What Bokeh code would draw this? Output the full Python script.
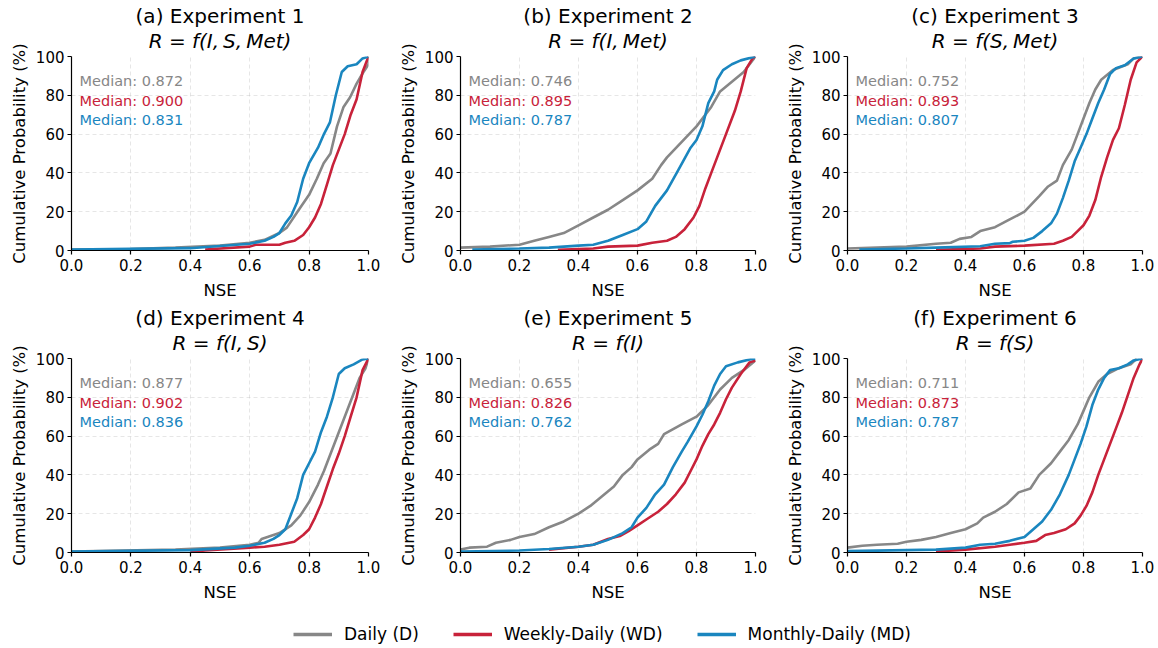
from bokeh.plotting import figure
from bokeh.models import Range1d, Title, PrintfTickFormatter, FixedTicker, Legend, LegendItem
from bokeh.layouts import row, column
from bokeh.core.properties import value
from bokeh.embed import file_html
from bokeh.resources import INLINE

# ---------------- data ----------------
series_names = ["Daily (D)", "Weekly-Daily (WD)", "Monthly-Daily (MD)"]
series_colors = ["#878787", "#C8223A", "#1A86BF"]

titles = ["(a) Experiment 1", "(b) Experiment 2", "(c) Experiment 3",
          "(d) Experiment 4", "(e) Experiment 5", "(f) Experiment 6"]
subtitles = ["R = f(I,\u2009S,\u2009Met)", "R = f(I,\u2009Met)", "R = f(S,\u2009Met)",
             "R = f(I,\u2009S)", "R = f(I)", "R = f(S)"]

medians_daily = [0.872, 0.746, 0.752, 0.877, 0.655, 0.711]
medians_weekly = [0.900, 0.895, 0.893, 0.902, 0.826, 0.873]
medians_monthly = [0.831, 0.787, 0.807, 0.836, 0.762, 0.787]

x_ticks = [0.0, 0.2, 0.4, 0.6, 0.8, 1.0]
y_ticks = [0, 20, 40, 60, 80, 100]

# Experiment 1
exp1_daily_nse = [0.0, 0.2, 0.35, 0.5, 0.6, 0.65, 0.7, 0.725, 0.77, 0.80, 0.826, 0.849, 0.872, 0.894, 0.916, 0.938, 0.96, 0.983, 1.0, 1.0]
exp1_daily_cdf = [0.5, 0.7, 1.5, 2.5, 4.0, 5.5, 9.0, 11.8, 22, 28.7, 37, 45, 50, 64, 74, 79, 86, 92, 96, 100]
exp1_weekly_nse = [0.45, 0.6, 0.62, 0.70, 0.72, 0.75, 0.78, 0.80, 0.82, 0.84, 0.86, 0.88, 0.90, 0.92, 0.94, 0.96, 0.98, 1.0]
exp1_weekly_cdf = [0.5, 2.0, 3.0, 3.0, 4.0, 5.0, 8.0, 12, 17, 24, 34, 44, 52, 60, 70, 78, 92, 100]
exp1_monthly_nse = [0.0, 0.4, 0.6, 0.65, 0.68, 0.70, 0.72, 0.74, 0.76, 0.78, 0.80, 0.83, 0.85, 0.87, 0.89, 0.91, 0.93, 0.96, 0.98, 1.0]
exp1_monthly_cdf = [0.5, 1.2, 3.5, 5.0, 7.0, 9.0, 14, 18, 25, 37, 45, 53, 60, 66, 80, 92, 95, 96, 99, 100]

# Experiment 2
exp2_daily_nse = [0.0, 0.1, 0.2, 0.25, 0.3, 0.35, 0.4, 0.45, 0.5, 0.55, 0.6, 0.65, 0.68, 0.70, 0.75, 0.80, 0.85, 0.88, 0.92, 0.96, 1.0]
exp2_daily_cdf = [1.5, 2.0, 3.0, 5.0, 7.0, 9.0, 13, 17, 21, 26, 31, 37, 44, 48, 56, 64, 74, 82, 87, 92, 100]
exp2_weekly_nse = [0.33, 0.45, 0.5, 0.6, 0.65, 0.70, 0.73, 0.76, 0.79, 0.81, 0.83, 0.85, 0.87, 0.90, 0.93, 0.95, 0.97, 0.99, 1.0]
exp2_weekly_cdf = [0.3, 1.0, 2.0, 2.5, 4.0, 5.0, 7.0, 11, 17, 23, 32, 40, 48, 60, 72, 82, 94, 99, 100]
exp2_monthly_nse = [0.04, 0.2, 0.3, 0.4, 0.45, 0.5, 0.55, 0.6, 0.63, 0.66, 0.70, 0.74, 0.78, 0.80, 0.82, 0.84, 0.86, 0.87, 0.89, 0.92, 0.95, 1.0]
exp2_monthly_cdf = [0.5, 1.0, 1.5, 2.5, 3.0, 5.0, 8.0, 11, 15, 23, 31, 42, 53, 57, 64, 76, 82, 88, 93, 96, 98, 100]

# Experiment 3
exp3_daily_nse = [0.0, 0.1, 0.2, 0.3, 0.35, 0.38, 0.42, 0.45, 0.5, 0.55, 0.6, 0.65, 0.68, 0.71, 0.73, 0.76, 0.78, 0.80, 0.82, 0.84, 0.86, 0.90, 0.95, 0.97, 1.0]
exp3_daily_cdf = [1.0, 1.5, 2.0, 3.5, 4.0, 6.0, 7.0, 10, 12, 16, 20, 28, 33, 36, 44, 52, 60, 68, 76, 83, 88, 93, 96, 99, 100]
exp3_weekly_nse = [0.30, 0.45, 0.5, 0.6, 0.70, 0.73, 0.76, 0.78, 0.80, 0.82, 0.84, 0.86, 0.88, 0.90, 0.92, 0.94, 0.96, 0.98, 1.0]
exp3_weekly_cdf = [0.3, 1.0, 2.0, 2.5, 3.5, 5.0, 7.0, 10, 13, 18, 26, 38, 48, 57, 63, 75, 88, 97, 100]
exp3_monthly_nse = [0.04, 0.2, 0.3, 0.45, 0.5, 0.55, 0.56, 0.6, 0.63, 0.66, 0.69, 0.71, 0.73, 0.75, 0.77, 0.79, 0.81, 0.83, 0.85, 0.87, 0.89, 0.91, 0.94, 0.97, 1.0]
exp3_monthly_cdf = [0.5, 1.0, 1.5, 2.2, 3.5, 3.8, 4.5, 5.0, 6.5, 10, 14, 19, 27, 36, 46, 53, 60, 68, 76, 83, 91, 94, 95.5, 99, 100]

# Experiment 4
exp4_daily_nse = [0.0, 0.35, 0.5, 0.6, 0.63, 0.64, 0.66, 0.70, 0.74, 0.77, 0.80, 0.83, 0.85, 0.87, 0.89, 0.91, 0.93, 0.95, 0.97, 0.99, 1.0]
exp4_daily_cdf = [0.5, 1.5, 2.5, 4.0, 5.0, 7.0, 8.0, 10, 14, 19, 26, 35, 42, 50, 58, 66, 74, 82, 90, 95, 100]
exp4_weekly_nse = [0.40, 0.45, 0.6, 0.65, 0.70, 0.75, 0.78, 0.80, 0.82, 0.84, 0.86, 0.88, 0.90, 0.92, 0.94, 0.96, 0.98, 1.0]
exp4_weekly_cdf = [0.3, 1.0, 2.5, 3.0, 4.0, 5.5, 9.0, 12, 18, 25, 34, 43, 51, 60, 70, 80, 94, 100]
exp4_monthly_nse = [0.0, 0.4, 0.55, 0.6, 0.65, 0.68, 0.70, 0.72, 0.74, 0.76, 0.78, 0.80, 0.82, 0.84, 0.86, 0.88, 0.90, 0.92, 0.95, 0.98, 1.0]
exp4_monthly_cdf = [0.5, 1.2, 2.5, 3.5, 5.0, 7.0, 9.0, 12, 20, 28, 40, 46, 52, 62, 70, 80, 92, 95, 97, 99.5, 100]

# Experiment 5
exp5_daily_nse = [0.0, 0.03, 0.09, 0.12, 0.17, 0.2, 0.25, 0.3, 0.35, 0.4, 0.44, 0.48, 0.52, 0.55, 0.58, 0.6, 0.64, 0.67, 0.69, 0.75, 0.80, 0.84, 0.88, 0.92, 0.96, 1.0]
exp5_daily_cdf = [1.5, 2.5, 3.0, 5.0, 6.5, 8.0, 9.5, 13, 16, 20, 24, 29, 34, 40, 44, 48, 53, 56, 61, 66, 70, 76, 84, 90, 94, 99]
exp5_weekly_nse = [0.30, 0.4, 0.45, 0.5, 0.54, 0.57, 0.6, 0.63, 0.67, 0.70, 0.73, 0.76, 0.78, 0.80, 0.82, 0.84, 0.86, 0.88, 0.90, 0.92, 0.95, 0.98, 1.0]
exp5_weekly_cdf = [1.5, 3.0, 4.0, 7.0, 8.5, 11, 14, 17, 21, 25, 30, 36, 42, 48, 55, 61, 66, 72, 79, 85, 92, 98, 99]
exp5_monthly_nse = [0.0, 0.2, 0.3, 0.4, 0.45, 0.5, 0.55, 0.58, 0.6, 0.63, 0.66, 0.69, 0.72, 0.75, 0.77, 0.80, 0.82, 0.84, 0.86, 0.88, 0.90, 0.94, 0.98, 1.0]
exp5_monthly_cdf = [0.5, 1.0, 1.8, 3.0, 4.0, 6.5, 10, 13, 18, 23, 30, 35, 44, 52, 57, 65, 71, 78, 86, 92, 96, 98, 99.5, 100]

# Experiment 6
exp6_daily_nse = [0.0, 0.05, 0.1, 0.17, 0.2, 0.25, 0.3, 0.35, 0.4, 0.44, 0.46, 0.5, 0.54, 0.58, 0.62, 0.65, 0.69, 0.72, 0.75, 0.78, 0.80, 0.82, 0.85, 0.88, 0.92, 0.96, 0.98]
exp6_daily_cdf = [2.5, 3.5, 4.0, 4.5, 5.5, 6.5, 8.0, 10, 12, 15, 18, 21, 25, 31, 33, 40, 46, 52, 58, 66, 73, 80, 88, 92, 95, 97, 100]
exp6_weekly_nse = [0.30, 0.4, 0.5, 0.55, 0.6, 0.64, 0.67, 0.70, 0.74, 0.77, 0.79, 0.81, 0.83, 0.85, 0.87, 0.89, 0.91, 0.93, 0.95, 0.97, 0.99, 1.0]
exp6_weekly_cdf = [0.5, 1.5, 3.0, 4.0, 5.0, 6.0, 9.0, 10, 12, 15, 19, 24, 31, 40, 48, 56, 64, 72, 81, 90, 97, 100]
exp6_monthly_nse = [0.0, 0.3, 0.4, 0.45, 0.5, 0.55, 0.6, 0.63, 0.66, 0.69, 0.72, 0.75, 0.77, 0.79, 0.81, 0.83, 0.85, 0.87, 0.89, 0.92, 0.95, 0.97, 1.0]
exp6_monthly_cdf = [0.7, 1.5, 2.5, 4.0, 4.5, 6.0, 8.0, 12, 16, 22, 30, 40, 48, 56, 65, 76, 84, 90, 94, 95, 97, 99, 100]

panel_series = [
    [(exp1_daily_nse, exp1_daily_cdf), (exp1_weekly_nse, exp1_weekly_cdf), (exp1_monthly_nse, exp1_monthly_cdf)],
    [(exp2_daily_nse, exp2_daily_cdf), (exp2_weekly_nse, exp2_weekly_cdf), (exp2_monthly_nse, exp2_monthly_cdf)],
    [(exp3_daily_nse, exp3_daily_cdf), (exp3_weekly_nse, exp3_weekly_cdf), (exp3_monthly_nse, exp3_monthly_cdf)],
    [(exp4_daily_nse, exp4_daily_cdf), (exp4_weekly_nse, exp4_weekly_cdf), (exp4_monthly_nse, exp4_monthly_cdf)],
    [(exp5_daily_nse, exp5_daily_cdf), (exp5_weekly_nse, exp5_weekly_cdf), (exp5_monthly_nse, exp5_monthly_cdf)],
    [(exp6_daily_nse, exp6_daily_cdf), (exp6_weekly_nse, exp6_weekly_cdf), (exp6_monthly_nse, exp6_monthly_cdf)],
]

# ---------------- layout / style ----------------
FONT = "DejaVu Sans"
LINE_W = 2.6

COL_WIDTH = [395, 387, 376]
COL_LEFT = [71, 63, 63]
COL_RIGHT = [27, 27, 16]
ROW_HEIGHT = [302, 302]
ROW_TOP = [56, 56]
ROW_BOTTOM = [49, 49]


def make_panel(i):
    c = i % 3
    r = i // 3
    p = figure(width=COL_WIDTH[c], height=ROW_HEIGHT[r],
               x_range=Range1d(0, 1), y_range=Range1d(0, 100),
               output_backend="svg", toolbar_location=None,
               min_border_left=COL_LEFT[c], min_border_right=COL_RIGHT[c],
               min_border_top=ROW_TOP[r], min_border_bottom=ROW_BOTTOM[r],
               title=titles[i])
    # main title (outer line)
    p.title.text_font = FONT
    p.title.text_font_size = "20px"
    p.title.text_font_style = "normal"
    p.title.align = "center"
    p.title.vertical_align = "bottom"
    p.title.standoff = 0
    p.title.text_color = "#000000"
    # formula line (inner line, closer to the plot)
    p.add_layout(Title(text=subtitles[i], text_font=FONT, text_font_size="20px",
                       text_font_style="italic", align="center", vertical_align="top",
                       standoff=3, text_color="#000000"), "above")

    p.outline_line_color = None
    p.background_fill_color = "white"
    p.border_fill_color = "white"

    p.xaxis.ticker = FixedTicker(ticks=x_ticks)
    p.yaxis.ticker = FixedTicker(ticks=y_ticks)
    p.xaxis.formatter = PrintfTickFormatter(format="%.1f")
    p.xaxis.axis_label = "NSE"
    p.yaxis.axis_label = "Cumulative Probability (%)"
    for ax in (p.xaxis, p.yaxis):
        ax.axis_label_text_font = FONT
        ax.axis_label_text_font_size = "16.5px"
        ax.axis_label_text_font_style = "normal"
        ax.axis_label_text_color = "#000000"
        ax.major_label_text_font = FONT
        ax.major_label_text_font_size = "15px"
        ax.major_label_text_color = "#000000"
        ax.axis_line_color = "#000000"
        ax.axis_line_width = 1.2
        ax.major_tick_line_color = "#000000"
        ax.major_tick_line_width = 1.2
        ax.major_tick_in = 0
        ax.major_tick_out = 4
        ax.minor_tick_line_color = None
    p.xaxis.major_label_standoff = 4
    p.xaxis.axis_label_standoff = 7
    p.yaxis.major_label_standoff = 3
    p.yaxis.axis_label_standoff = 4

    p.grid.grid_line_color = "#b8b8b8"
    p.grid.grid_line_alpha = 0.45
    p.grid.grid_line_dash = "4 3"
    p.grid.grid_line_width = 0.8

    for (xs, ys), color in zip(panel_series[i], series_colors):
        p.line(x=xs, y=ys, line_color=color, line_width=LINE_W)

    meds = [medians_daily[i], medians_weekly[i], medians_monthly[i]]
    p.text(x=[0.027] * 3, y=[87.5, 77.3, 67.1],
           text=["Median: %.3f" % m for m in meds],
           text_color=series_colors,
           text_font=value(FONT), text_font_size="14.5px",
           text_align="left", text_baseline="middle")
    return p


panels = [make_panel(i) for i in range(6)]

# legend strip
leg = figure(width=sum(COL_WIDTH), height=44, x_range=Range1d(0, 1), y_range=Range1d(0, 1),
             output_backend="svg", toolbar_location=None,
             x_axis_type=None, y_axis_type=None, min_border=0)
leg.outline_line_color = None
leg.grid.visible = False
items = []
for name, color in zip(series_names, series_colors):
    rr = leg.line(x=[0, 1], y=[-5, -5], line_color=color, line_width=3.3)
    items.append(LegendItem(label=name, renderers=[rr]))
legend = Legend(items=items, orientation="horizontal", location=(293, 4),
                glyph_width=39, glyph_height=20, label_standoff=12, spacing=34,
                padding=0, margin=0, border_line_color=None, background_fill_alpha=0,
                label_text_font=FONT, label_text_font_size="17px", label_text_color="#000000")
leg.add_layout(legend, "center")

layout = column(row(panels[0], panels[1], panels[2]),
                row(panels[3], panels[4], panels[5]),
                leg)

open("out.html", "w").write(file_html(layout, INLINE))
